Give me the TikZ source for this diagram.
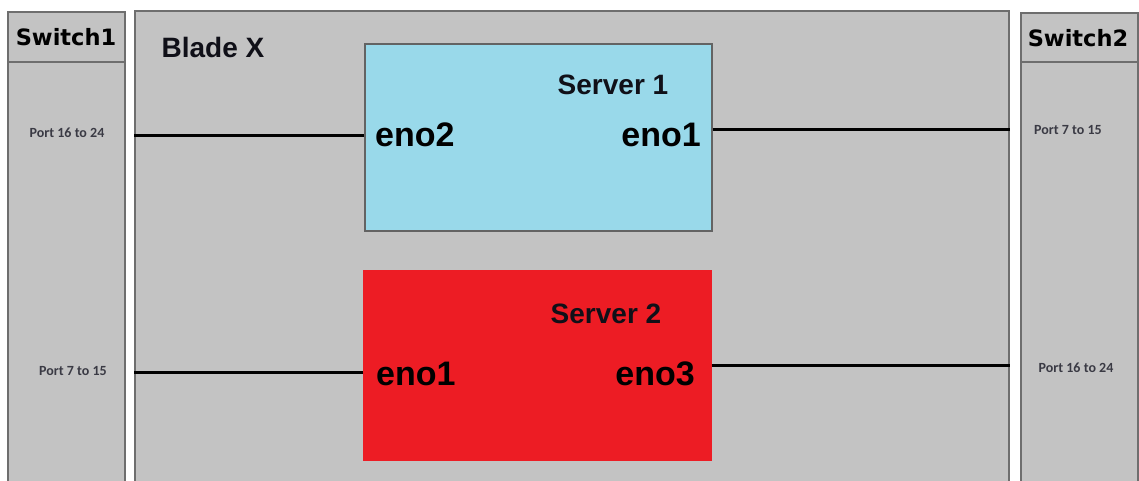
\documentclass[tikz,border=0pt]{standalone}
\usepackage{fontspec}
\setmainfont{Liberation Sans}
\newfontfamily\heavyfont{DejaVu Sans}
\newfontfamily\portfont{Carlito}
\usepackage{tikz}
\usetikzlibrary{positioning,calc}
\definecolor{cRack}{HTML}{C3C3C3}
\definecolor{cEdge}{HTML}{6E6E6E}
\definecolor{cSrvA}{HTML}{99D9EA}
\definecolor{cSrvB}{HTML}{ED1C24}
\definecolor{cText}{HTML}{101018}
\definecolor{cPort}{HTML}{3A3A44}
\tikzset{
  rack/.style={draw=cEdge, line width=2pt, fill=cRack, anchor=north west,
               inner sep=0pt},
  srv/.style={draw=#1, line width=1.6pt, fill=#1, anchor=north west,
              inner sep=0pt},
  title/.style={font=\heavyfont\bfseries\fontsize{22.5}{24}\selectfont, text=black},
  head/.style={font=\bfseries\fontsize{28}{30}\selectfont, text=cText},
  nic/.style={font=\bfseries\fontsize{34}{36}\selectfont, text=black, inner sep=0pt},
  port/.style={font=\portfont\bfseries\fontsize{14}{16}\selectfont, text=cPort},
  link/.style={line width=3pt, draw=black},
}

\begin{document}
\begin{tikzpicture}[x=1pt, y=-1pt]
  \fill[white] (0,0) rectangle (1139,480);
  \clip (0,0) rectangle (1139,480);

  % switches and blade chassis
  \node[rack, minimum width=117pt, minimum height=475pt] (swA) at (7,11) {};
  \node[rack, minimum width=874pt, minimum height=475pt] (blade) at (134,10) {};
  \node[rack, minimum width=117pt, minimum height=475pt] (swB) at (1020,12) {};
  \draw[cEdge, line width=2pt] (swA.west |- 0,62) -- (swA.east |- 0,62);
  \draw[cEdge, line width=2pt] (swB.west |- 0,62) -- (swB.east |- 0,62);
  \node[title] (swAname) at (66,37) {Switch1};
  \node[title] (swBname) at (1078,38) {Switch2};
  \node[head] (bladename) at (213,47) {Blade X};

  % servers
  \node[srv=cSrvA, draw=cEdge!90!black, minimum width=347pt, minimum height=187pt] (srvA) at (364,43) {};
  \node[srv=cSrvB, minimum width=347pt, minimum height=189pt] (srvB) at (363,270) {};
  \node[head] (srvAname) at (613,85) {Server 1};
  \node[head] (srvBname) at (606,314) {Server 2};

  % interfaces
  \node[nic, anchor=west] (srvAl) at (375,135) {eno2};
  \node[nic, anchor=east] (srvAr) at (701,135) {eno1};
  \node[nic, anchor=west] (srvBl) at (376,374) {eno1};
  \node[nic, anchor=east] (srvBr) at (695,374) {eno3};

  % switch ports
  \node[port] (swAtop) at (67,133) {Port 16 to 24};
  \node[port] (swAbot) at (73,371) {Port 7 to 15};
  \node[port] (swBtop) at (1068,130) {Port 7 to 15};
  \node[port] (swBbot) at (1076,368) {Port 16 to 24};

  % cabling
  \draw[link] ([yshift=1.5pt]srvA.west) -- ([yshift=1.5pt]srvA.west -| blade.west);
  \draw[link] ([yshift=7.5pt]srvA.east) -- ([yshift=7.5pt]srvA.east -| blade.east);
  \draw[link] ([yshift=-7.5pt]srvB.west) -- ([yshift=-7.5pt]srvB.west -| blade.west);
  \draw[link] (srvB.east) -- (srvB.east -| blade.east);
\end{tikzpicture}
\end{document}
